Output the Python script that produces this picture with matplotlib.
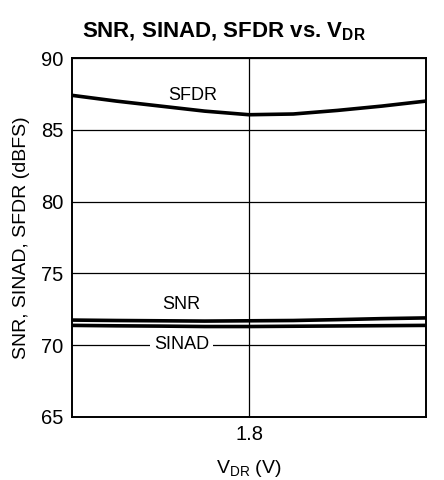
import numpy as np
import matplotlib
matplotlib.use('Agg')
import matplotlib.pyplot as plt

plt.rcParams['font.family'] = ['Liberation Sans', 'DejaVu Sans']

# Данные
vdr = [1.6, 1.65, 1.7, 1.75, 1.8, 1.85, 1.9, 1.95, 2.0]
sfdr = [87.4, 87.0, 86.65, 86.3, 86.05, 86.1, 86.35, 86.65, 87.0]
snr = [71.75, 71.72, 71.7, 71.68, 71.7, 71.72, 71.78, 71.85, 71.9]
sinad = [71.38, 71.35, 71.33, 71.3, 71.3, 71.32, 71.34, 71.36, 71.38]

fig = plt.figure(figsize=(4.44, 4.80), dpi=100)
ax = fig.add_axes([72 / 444, 63 / 480, 354 / 444, 359 / 480])

ax.plot(vdr, sfdr, color='black', lw=2.6)
ax.plot(vdr, snr, color='black', lw=2.6)
ax.plot(vdr, sinad, color='black', lw=2.6)

ax.set_xlim(1.6, 2.0)
ax.set_ylim(65, 90)
ax.set_xticks([1.8])
ax.set_xticklabels(['1.8'])
ax.set_yticks([65, 70, 75, 80, 85, 90])
ax.grid(True, color='black', lw=0.9)
ax.tick_params(length=0, labelsize=14.5, pad=6)
for s in ax.spines.values():
    s.set_linewidth(1.4)

ax.text(1.736, 87.4, 'SFDR', fontsize=13, ha='center', va='center')
ax.text(1.724, 72.85, 'SNR', fontsize=13, ha='center', va='center')
ax.text(1.724, 70.05, 'SINAD', fontsize=13, ha='center', va='center',
        bbox=dict(facecolor='white', edgecolor='none', pad=3))

ax.set_ylabel('SNR, SINAD, SFDR (dBFS)', fontsize=14, labelpad=8)
ax.set_xlabel('V$_{\\mathregular{DR}}$ (V)', fontsize=14, labelpad=10)
fig.text(0.505, 0.933, 'SNR, SINAD, SFDR vs. V$_{\\mathregular{DR}}$',
         fontsize=16, fontweight='bold', ha='center', va='center')

fig.savefig('out.png', dpi=100)
